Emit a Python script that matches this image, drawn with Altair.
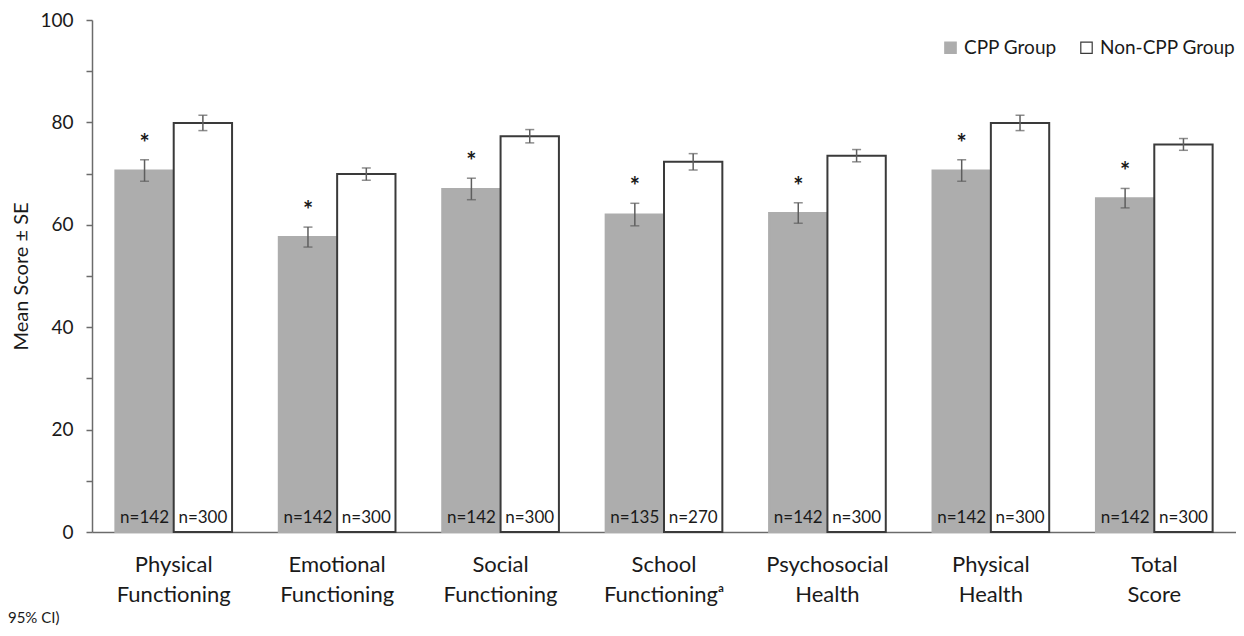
import altair as alt
import pandas as pd

categories = ["Physical Functioning", "Emotional Functioning", "Social Functioning",
              "School Functioningᵃ", "Psychosocial Health", "Physical Health", "Total Score"]
groups = ["CPP Group", "Non-CPP Group"]
cpp_mean = [70.6, 57.6, 67.0, 62.0, 62.3, 70.6, 65.2]
cpp_se = [2.1, 1.95, 2.1, 2.2, 2.0, 2.1, 1.9]
non_mean = [79.9, 69.9, 77.3, 72.3, 73.5, 79.9, 75.7]
non_se = [1.5, 1.2, 1.3, 1.6, 1.2, 1.5, 1.15]
cpp_n = [142, 142, 142, 135, 142, 142, 142]
non_n = [300, 300, 300, 270, 300, 300, 300]
cpp_sig = ["*", "*", "*", "*", "*", "*", "*"]

rows = []
for i, c in enumerate(categories):
    rows.append(dict(cat=c, grp=groups[0], mean=cpp_mean[i], lo=cpp_mean[i] - cpp_se[i],
                     hi=cpp_mean[i] + cpp_se[i], n=f"n={cpp_n[i]}", star=cpp_sig[i], base=0))
    rows.append(dict(cat=c, grp=groups[1], mean=non_mean[i], lo=non_mean[i] - non_se[i],
                     hi=non_mean[i] + non_se[i], n=f"n={non_n[i]}", star="", base=0))
df = pd.DataFrame(rows)

FONT = "Lato"
TXT = "#1a1a1a"
AX = "#6b6b6b"

x = alt.X("cat:N", sort=categories, title=None,
          scale=alt.Scale(paddingInner=0.286, paddingOuter=0.143),
          axis=alt.Axis(labelExpr="split(datum.label, ' ')", labelAngle=0, ticks=False,
                        labelFontSize=22, labelPadding=22, labelLineHeight=30,
                        labelColor=TXT, domainColor=AX, domainWidth=1.5,
                        labelFont=FONT))
xo = alt.XOffset("grp:N", sort=groups, scale=alt.Scale(paddingInner=0, paddingOuter=0))
yscale = alt.Scale(domain=[0, 100], nice=False)

base = alt.Chart(df)

bars = base.mark_bar(strokeWidth=2).encode(
    x=x, xOffset=xo,
    y=alt.Y("mean:Q", scale=yscale, title="Mean Score ± SE",
            axis=alt.Axis(values=list(range(0, 101, 10)),
                          labelExpr="datum.value % 20 == 0 ? datum.label : ''",
                          grid=False, tickSize=6, tickColor=AX, tickWidth=1.5,
                          domainColor=AX, domainWidth=1.5, labelPadding=13,
                          labelFontSize=19, labelColor=TXT, labelFont=FONT,
                          titleFontSize=20, titleFontWeight="normal", titleColor=TXT,
                          titleFont=FONT, titlePadding=8)),
    fill=alt.Fill("grp:N", sort=groups,
                  scale=alt.Scale(domain=groups, range=["#adadad", "#ffffff"]),
                  legend=alt.Legend(title=None, orient="none", legendX=849, legendY=18,
                                    direction="horizontal", symbolType="square",
                                    symbolSize=130, labelFontSize=19, labelFont=FONT,
                                    labelColor=TXT, columnPadding=20,
                                    labelOffset=4, symbolStrokeWidth=1.2)),
    stroke=alt.Stroke("grp:N", sort=groups,
                      scale=alt.Scale(domain=groups, range=["#adadad", "#3a3a3a"]),
                      legend=None),
)

err = base.mark_rule(color="#5e5e5e", strokeWidth=1.5).encode(
    x=x, xOffset=xo, y="lo:Q", y2="hi:Q")
cap_hi = base.mark_tick(color="#5e5e5e", thickness=1.5, size=9).encode(
    x=x, xOffset=xo, y="hi:Q")
cap_lo = base.mark_tick(color="#5e5e5e", thickness=1.5, size=9).encode(
    x=x, xOffset=xo, y="lo:Q")

stars = base.mark_text(fontSize=24, font=FONT, fontWeight="bold", color=TXT,
                       baseline="alphabetic", dy=-8).encode(
    x=x, xOffset=xo, y="hi:Q", text="star:N")

nlab = base.mark_text(fontSize=17, font=FONT, color=TXT,
                      baseline="alphabetic", dy=-9).encode(
    x=x, xOffset=xo, y="base:Q", text="n:N")

chart = alt.layer(bars, err, cap_hi, cap_lo, stars, nlab).properties(
    width=1144, height=512,
    autosize=alt.AutoSizeParams(type="none"),
    padding={"left": 84, "top": 12, "right": 0, "bottom": 96},
    title=alt.TitleParams("95% CI)", orient="bottom", anchor="start", frame="bounds",
                          fontSize=15, font=FONT, fontWeight="normal", color=TXT,
                          offset=6, dx=-4),
).configure_view(stroke=None)

chart.save("out.html", embed_options={"renderer": "svg", "actions": False})
